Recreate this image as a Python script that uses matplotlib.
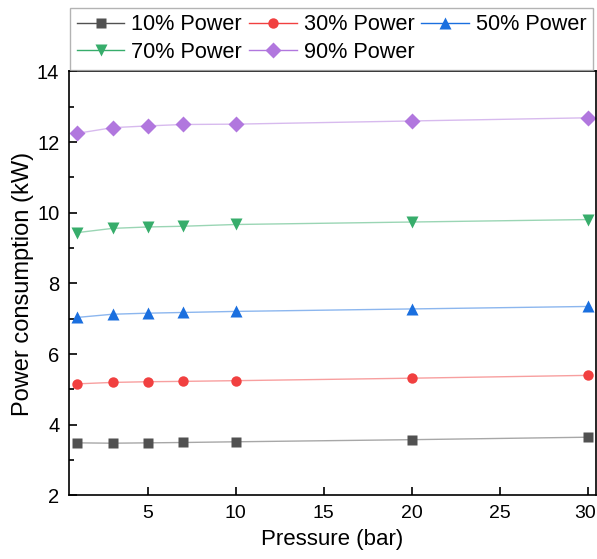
import matplotlib
matplotlib.use('Agg')
import matplotlib.pyplot as plt
import matplotlib.transforms as mtransforms
from matplotlib.ticker import MultipleLocator

plt.rcParams['font.family'] = ['Liberation Sans', 'DejaVu Sans']

pressure = [1, 3, 5, 7, 10, 20, 30]
power_10 = [3.49, 3.48, 3.49, 3.50, 3.52, 3.58, 3.65]
power_30 = [5.16, 5.20, 5.22, 5.23, 5.25, 5.32, 5.40]
power_50 = [7.04, 7.13, 7.16, 7.18, 7.21, 7.28, 7.35]
power_70 = [9.44, 9.56, 9.60, 9.62, 9.67, 9.74, 9.81]
power_90 = [12.25, 12.41, 12.46, 12.50, 12.51, 12.60, 12.69]
xticks = [5, 10, 15, 20, 25, 30]

labels = ['10% Power', '30% Power', '50% Power', '70% Power', '90% Power']
series = [power_10, power_30, power_50, power_70, power_90]
colors = ['#515151', '#F14040', '#1A6FDF', '#37AD6B', '#B177DE']
markers = ['s', 'o', '^', 'v', 'D']
msizes = [6.8, 7.5, 8.5, 8.5, 8.5]

fig = plt.figure(figsize=(5.97, 5.59), dpi=100)
ax = fig.add_axes([0.1156, 0.1136, 0.8827, 0.7585])

handles = []
for y, lab, c, m, ms in zip(series, labels, colors, markers, msizes):
    ax.plot(pressure, y, '-', color=c, alpha=0.5, lw=1.0)
    ax.plot(pressure, y, m, color=c, ms=ms, mec='none')
    h, = ax.plot([], [], '-', color=c, lw=1.0, marker=m, ms=ms, mec='none')
    handles.append(h)

ax.set_xlim(0.53, 30.45)
ax.set_ylim(2, 14)
ax.set_xticks(xticks)
ax.yaxis.set_major_locator(MultipleLocator(2))
ax.yaxis.set_minor_locator(MultipleLocator(1))
ax.tick_params(which='both', direction='in', labelsize=14.5, width=1.2)
ax.tick_params(axis='x', labelsize=14)
ax.tick_params(which='major', length=6)
ax.tick_params(which='minor', length=3.5)
ax.tick_params(axis='x', pad=7)
ax.tick_params(axis='y', pad=7)
for s in ax.spines.values():
    s.set_linewidth(1.2)

ax.set_xlabel('Pressure (bar)', fontsize=16, labelpad=5)
ax.set_ylabel('Power consumption (kW)', fontsize=17, labelpad=2)

order = [0, 3, 1, 4, 2]
leg = fig.legend([handles[i] for i in order], [labels[i] for i in order],
                 ncol=3, loc='upper right', bbox_to_anchor=(593 / 597, 1 - 8 / 559),
                 fontsize=15.6, handlelength=2.2, columnspacing=0.32,
                 handletextpad=0.32, borderpad=0.3, labelspacing=0.3,
                 fancybox=False, borderaxespad=0, frameon=True)
leg.get_frame().set_edgecolor('#a0a0a0')
leg.get_frame().set_linewidth(1.0)

# nudge the "30" label a little left so it stays inside the canvas
fig.canvas.draw()
last = ax.xaxis.get_major_ticks()[len(xticks) - 1].label1
last.set_transform(last.get_transform() + mtransforms.ScaledTranslation(-3 / 100, 0, fig.dpi_scale_trans))

fig.savefig('out.png', dpi=100)
